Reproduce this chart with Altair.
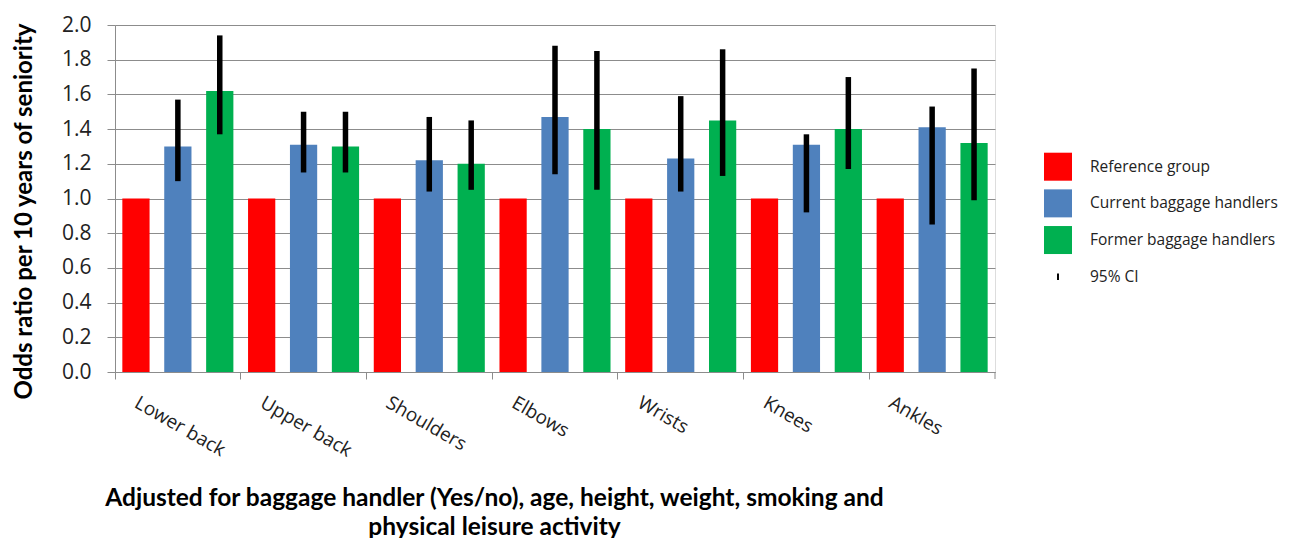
import altair as alt
import pandas as pd

categories = ["Lower back", "Upper back", "Shoulders", "Elbows", "Wrists", "Knees", "Ankles"]
groups = ["Reference group", "Current baggage handlers", "Former baggage handlers"]

reference = [1.0, 1.0, 1.0, 1.0, 1.0, 1.0, 1.0]
current = [1.30, 1.31, 1.22, 1.47, 1.23, 1.31, 1.41]
current_lo = [1.10, 1.15, 1.04, 1.14, 1.04, 0.92, 0.85]
current_hi = [1.57, 1.50, 1.47, 1.88, 1.59, 1.37, 1.53]
former = [1.62, 1.30, 1.20, 1.40, 1.45, 1.40, 1.32]
former_lo = [1.37, 1.15, 1.05, 1.05, 1.13, 1.17, 0.99]
former_hi = [1.94, 1.50, 1.45, 1.85, 1.86, 1.70, 1.75]

legend_labels = groups + ["95% CI"]
colors = ["#FF0000", "#4F81BD", "#00B050", "#000000"]
CI_SHAPE = "M-0.07,-0.23L0.07,-0.23L0.07,0.23L-0.07,0.23Z"
shapes = ["square", "square", "square", CI_SHAPE]
y_ticks = [0, 0.2, 0.4, 0.6, 0.8, 1.0, 1.2, 1.4, 1.6, 1.8, 2.0]

rows = []
for i, c in enumerate(categories):
    rows.append({"cat": c, "grp": groups[0], "val": reference[i], "lo": None, "hi": None})
    rows.append({"cat": c, "grp": groups[1], "val": current[i], "lo": current_lo[i], "hi": current_hi[i]})
    rows.append({"cat": c, "grp": groups[2], "val": former[i], "lo": former_lo[i], "hi": former_hi[i]})
df = pd.DataFrame(rows)
legend_df = pd.DataFrame({"grp": legend_labels})

GRID = "#8c8c8c"
color_scale = alt.Scale(domain=legend_labels, range=colors)
y_scale = alt.Scale(domain=[0, 2], nice=False, zero=True)

x_enc = alt.X(
    "cat:N",
    sort=categories,
    scale=alt.Scale(paddingInner=0, paddingOuter=0),
    axis=alt.Axis(
        title=["Adjusted for baggage handler (Yes/no), age, height, weight, smoking and",
               "physical leisure activity"],
        titleFont="Lato", titleFontSize=24.5, titleFontWeight="bold", titleColor="#000",
        titleX=379, titleY=133, titleAlign="center", titleBaseline="alphabetic",
        titleLineHeight=29, titleAnchor="start",
        bandPosition=0, tickSize=7, tickColor=GRID, domainColor=GRID,
        labelAngle=30, labelAlign="left", labelBaseline="top",
        labelOffset=-37, labelPadding=14, labelFont="Open Sans", labelFontSize=19,
        labelColor="#222", grid=False,
    ),
)
xoff_enc = alt.XOffset(
    "grp:N",
    scale=alt.Scale(domain=groups, paddingInner=0.35, paddingOuter=0.175),
)

bars = alt.Chart(df).mark_bar().encode(
    x=x_enc,
    xOffset=xoff_enc,
    y=alt.Y(
        "val:Q",
        scale=y_scale,
        axis=alt.Axis(
            title="Odds ratio per 10 years of seniority",
            titleFont="Lato", titleFontSize=24, titleFontWeight="bold", titleColor="#000",
            titleX=-91, titleY=186, titleAngle=-90, titleAlign="center",
            titleBaseline="middle", titleAnchor="start",
            values=y_ticks, labelOverlap=False,
            format=".1f", tickSize=8, tickColor=GRID, domainColor=GRID,
            gridColor=GRID, gridWidth=1, labelPadding=16,
            labelFont="Open Sans", labelFontSize=21, labelColor="#222",
        ),
    ),
    color=alt.Color("grp:N", scale=color_scale, legend=None),
)

ci = alt.Chart(df).transform_filter("isValid(datum.lo)").mark_rule(
    color="#000", strokeWidth=5.5
).encode(
    x=alt.X("cat:N", sort=categories),
    xOffset=alt.XOffset("grp:N", scale=alt.Scale(domain=groups)),
    y=alt.Y("lo:Q", scale=y_scale, axis=None),
    y2="hi:Q",
)

end_tick = alt.Chart(alt.Data(values=[{"a": 1}])).mark_rule(color=GRID).encode(
    x=alt.value(880), y=alt.value(347), y2=alt.value(354)
)

legend_y = alt.Y(
    "grp:N",
    scale=alt.Scale(domain=legend_labels, range=[141.7, 251.7], padding=0),
    axis=None,
)

legend_symbols = alt.Chart(legend_df).mark_point(filled=True, opacity=1, size=784, strokeWidth=0).encode(
    x=alt.value(943),
    y=legend_y,
    color=alt.Color("grp:N", scale=color_scale, legend=None),
    shape=alt.Shape("grp:N", scale=alt.Scale(domain=legend_labels, range=shapes), legend=None),
)

legend_text = alt.Chart(legend_df).mark_text(
    align="left", baseline="middle", font="Open Sans", fontSize=15.5, color="#222"
).encode(
    x=alt.value(975),
    y=legend_y,
    text="grp:N",
)

chart = alt.layer(bars, ci, end_tick, legend_symbols, legend_text).resolve_scale(
    y="independent"
).properties(
    width=880, height=347,
    autosize=alt.AutoSizeParams(type="none"),
    padding={"left": 107, "top": 17, "right": 290, "bottom": 166},
).configure_view(stroke=None).configure(background="white")

chart.save("out.html", embed_options={"renderer": "svg", "actions": False})
